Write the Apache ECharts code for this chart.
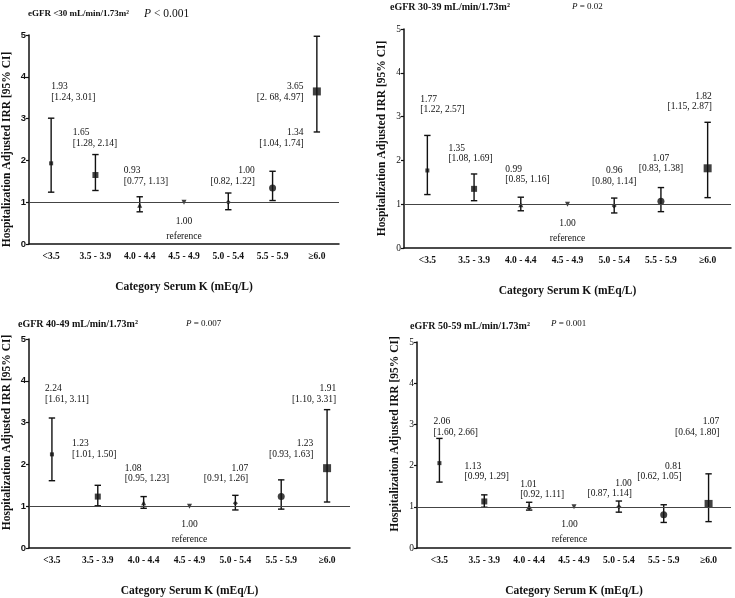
<!DOCTYPE html>
<html><head><meta charset="utf-8">
<script src="https://cdn.jsdelivr.net/npm/echarts@6/dist/echarts.min.js"></script>
<style>html,body{margin:0;padding:0;background:#fff}#c{width:735px;height:598px}</style>
</head><body><div id="c"></div>
<script>
// ---------- data ----------
const categories = ['<3.5', '3.5 - 3.9', '4.0 - 4.4', '4.5 - 4.9', '5.0 - 5.4', '5.5 - 5.9', '≥6.0'];
const yTicks = [0, 1, 2, 3, 4, 5];
const panelNames = ['eGFR <30 mL/min/1.73m²', 'eGFR 30-39 mL/min/1.73m²', 'eGFR 40-49 mL/min/1.73m²', 'eGFR 50-59 mL/min/1.73m²'];
const pTexts = [' < 0.001', ' = 0.02', ' = 0.007', ' = 0.001'];
const xAxisTitle = 'Category Serum K (mEq/L)';
const yAxisTitle = 'Hospitalization Adjusted IRR [95% CI]';
const referenceWord = 'reference';
const referenceIndex = 3;

const irr_lt30 = [1.93, 1.65, 0.93, 1.00, 1.00, 1.34, 3.65];
const lo_lt30  = [1.24, 1.28, 0.77, null, 0.82, 1.04, 2.68];
const hi_lt30  = [3.01, 2.14, 1.13, null, 1.22, 1.74, 4.97];

const irr_30_39 = [1.77, 1.35, 0.99, 1.00, 0.96, 1.07, 1.82];
const lo_30_39  = [1.22, 1.08, 0.85, null, 0.80, 0.83, 1.15];
const hi_30_39  = [2.57, 1.69, 1.16, null, 1.14, 1.38, 2.87];

const irr_40_49 = [2.24, 1.23, 1.08, 1.00, 1.07, 1.23, 1.91];
const lo_40_49  = [1.61, 1.01, 0.95, null, 0.91, 0.93, 1.10];
const hi_40_49  = [3.11, 1.50, 1.23, null, 1.26, 1.63, 3.31];

const irr_50_59 = [2.06, 1.13, 1.01, 1.00, 1.00, 0.81, 1.07];
const lo_50_59  = [1.60, 0.99, 0.92, null, 0.87, 0.62, 0.64];
const hi_50_59  = [2.66, 1.29, 1.11, null, 1.14, 1.05, 1.80];

// printed CI text exactly as in the source figure (one typo kept)
const ciTextOverride = [{6: '[2. 68, 4.97]'}, {}, {}, {}];

// ---------- layout / style (not data) ----------
const grids = [
  {left: 27,  top: 35,  width: 312, height: 209},
  {left: 404, top: 29,  width: 327, height: 219},
  {left: 29,  top: 339, width: 321, height: 215},
  {left: 417, top: 342, width: 314, height: 210}
];
// annotation anchors: [category position, value of first line, align]
const labelPos = [
  [[0, 3.76, 'left'], [0.49, 2.66, 'left'], [1.64, 1.75, 'left'], [3, 0.55, 'center'], [4.6, 1.75, 'right'], [5.7, 2.66, 'right'], [5.7, 3.76, 'right']],
  [[-0.15, 3.40, 'left'], [0.45, 2.28, 'left'], [1.67, 1.80, 'left'], [3, 0.57, 'center'], [4, 1.76, 'center'], [5, 2.05, 'center'], [6.09, 3.47, 'right']],
  [[-0.15, 3.81, 'left'], [0.44, 2.49, 'left'], [1.59, 1.91, 'left'], [3, 0.56, 'center'], [4.28, 1.91, 'right'], [5.7, 2.49, 'right'], [6.2, 3.81, 'right']],
  [[-0.13, 3.07, 'left'], [0.56, 1.98, 'left'], [1.8, 1.55, 'left'], [2.9, 0.57, 'center'], [4.29, 1.57, 'right'], [5.4, 1.98, 'right'], [6.24, 3.07, 'right']]
];
const titlePos = [
  {x: 28, y: 14, size: 9, px: 144, py: 14, psize: 11.5},
  {x: 390, y: 7, size: 10, px: 572, py: 7, psize: 9},
  {x: 18, y: 324, size: 10, px: 186, py: 324, psize: 9},
  {x: 410, y: 326, size: 10, px: 551, py: 324, psize: 9}
];
const yNamePadding = [[0, 20, 0, 0], [0, 0, 0, 0], [0, 0, 0, 22], [0, 0, 0, 22]];
const yLabelBold = [true, false, true, false];
const markerShape = ['rect', 'rect', 'triangle', 'triangle', 'diamond', 'circle', 'rect'];
const markerSize  = [4, 6, 5, 5, 5, 7, 8];
const markerRot   = [0, 0, 0, 180, 0, 0, 0];

const SERIF = '"Liberation Serif", "DejaVu Serif", serif';
const SANS = '"Liberation Sans", Arial, sans-serif';
const INK = '#111';

const panels = [
  [irr_lt30, lo_lt30, hi_lt30],
  [irr_30_39, lo_30_39, hi_30_39],
  [irr_40_49, lo_40_49, hi_40_49],
  [irr_50_59, lo_50_59, hi_50_59]
];

const chart = echarts.init(document.getElementById('c'), null, {renderer: 'canvas'});

const xAxes = [], yAxes = [], series = [];
panels.forEach((p, g) => {
  const [irr, lo, hi] = p;
  xAxes.push({
    gridIndex: g, type: 'category', data: categories, boundaryGap: true,
    axisLine: {lineStyle: {color: INK, width: 1.5}},
    axisTick: {alignWithLabel: true, length: 4, lineStyle: {color: INK, width: 1.2}},
    axisLabel: {color: INK, fontFamily: SERIF, fontWeight: 'bold', fontSize: 9.5, margin: 8, interval: 0},
    name: xAxisTitle, nameLocation: 'middle', nameGap: 37,
    nameTextStyle: {color: INK, fontFamily: SERIF, fontWeight: 'bold', fontSize: 11.5}
  });
  yAxes.push({
    gridIndex: g, type: 'value', min: 0, max: 5, interval: 1,
    axisLine: {show: true, lineStyle: {color: INK, width: 1.5}},
    axisTick: {show: true, length: 3, lineStyle: {color: INK, width: 1.2}},
    splitLine: {show: false},
    axisLabel: {color: INK, fontFamily: yLabelBold[g] ? SANS : SERIF, fontWeight: yLabelBold[g] ? 'bold' : 'normal',
      fontSize: 9.5, margin: 3, formatter: v => yTicks.includes(v) ? String(v) : ''},
    name: yAxisTitle, nameLocation: 'middle', nameGap: 16,
    nameTextStyle: {color: INK, fontFamily: SERIF, fontWeight: 'bold', fontSize: 11.5, padding: yNamePadding[g]}
  });
  const bars = [];
  irr.forEach((v, i) => { if (lo[i] != null) bars.push([i, lo[i], hi[i]]); });
  series.push({
    type: 'custom', xAxisIndex: g, yAxisIndex: g, silent: true, z: 3,
    data: bars,
    encode: {x: 0, y: [1, 2]},
    renderItem: (params, api) => {
      const i = api.value(0);
      const a = api.coord([i, api.value(1)]);
      const b = api.coord([i, api.value(2)]);
      const cw = 3.2;
      const st = {stroke: INK, lineWidth: 1.4};
      return {type: 'group', children: [
        {type: 'line', shape: {x1: a[0], y1: a[1], x2: b[0], y2: b[1]}, style: st},
        {type: 'line', shape: {x1: a[0] - cw, y1: a[1], x2: a[0] + cw, y2: a[1]}, style: st},
        {type: 'line', shape: {x1: b[0] - cw, y1: b[1], x2: b[0] + cw, y2: b[1]}, style: st}
      ]};
    }
  });
  series.push({
    type: 'scatter', xAxisIndex: g, yAxisIndex: g, silent: true, z: 4,
    itemStyle: {color: INK},
    data: irr.map((v, i) => ({value: [i, v], symbol: markerShape[i], symbolSize: markerSize[i], symbolRotate: markerRot[i]})),
    markLine: {
      silent: true, symbol: ['none', 'none'], label: {show: false},
      lineStyle: {color: '#444', width: 1, type: 'solid'},
      data: [{yAxis: 1}]
    }
  });
});

chart.setOption({
  animation: false,
  backgroundColor: '#fff',
  grid: grids.map(g => Object.assign({containLabel: false}, g)),
  xAxis: xAxes, yAxis: yAxes, series: series
});

// ---------- annotations and panel titles ----------
const graphics = [];
panels.forEach((p, g) => {
  const [irr, lo, hi] = p;
  labelPos[g].forEach((pos, i) => {
    const [cx, v, align] = pos;
    const p0 = chart.convertToPixel({gridIndex: g}, [0, v]);
    const p1 = chart.convertToPixel({gridIndex: g}, [1, v]);
    const x = p0[0] + cx * (p1[0] - p0[0]);
    const isRef = i === referenceIndex;
    const lh = isRef ? 15 : 10.5;
    const ci = ciTextOverride[g][i] || ('[' + lo[i]?.toFixed(2) + ', ' + hi[i]?.toFixed(2) + ']');
    const txt = irr[i].toFixed(2) + '\n' + (isRef ? referenceWord : ci);
    graphics.push({
      type: 'text', x: x, y: p0[1] - lh / 2, silent: true,
      style: {text: txt, fill: INK, font: '9.5px ' + SERIF, lineHeight: lh, align: align, verticalAlign: 'top'}
    });
  });
  const t = titlePos[g];
  graphics.push({
    type: 'text', x: t.x, y: t.y, silent: true,
    style: {text: panelNames[g], fill: INK, font: 'bold ' + t.size + 'px ' + SERIF, verticalAlign: 'middle', align: 'left'}
  });
  graphics.push({
    type: 'text', x: t.px, y: t.py, silent: true,
    style: {text: '{i|P}' + pTexts[g], fill: INK, font: t.psize + 'px ' + SERIF, verticalAlign: 'middle', align: 'left',
      rich: {i: {fontStyle: 'italic', fontFamily: SERIF, fontSize: t.psize, fill: INK}}}
  });
});
chart.setOption({graphic: graphics});
</script>
</body></html>
